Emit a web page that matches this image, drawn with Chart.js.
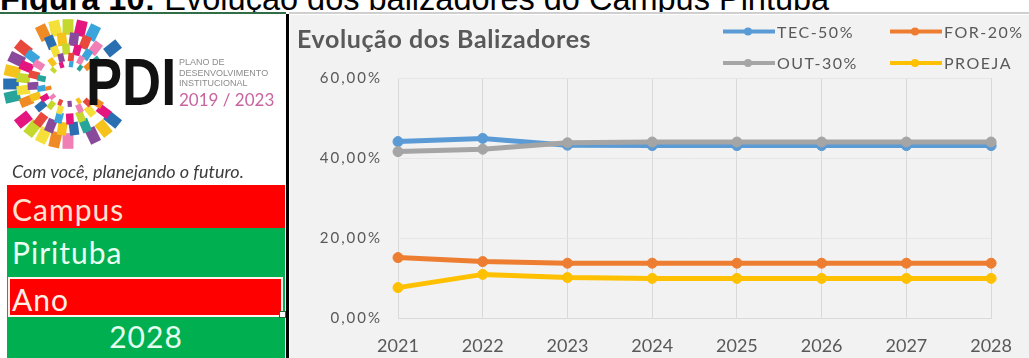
<!DOCTYPE html>
<html>
<head>
<meta charset="utf-8">
<script src="https://cdn.jsdelivr.net/npm/chart.js@4.4.1/dist/chart.umd.min.js"></script>
<style>
  html, body { margin: 0; padding: 0; background: #fff; }
  #page { position: relative; width: 1029px; height: 358px; overflow: hidden; background: #fff; }
  .abs { position: absolute; white-space: nowrap; }
  #caption { position: absolute; left: 0; top: 0; width: 1029px; height: 12px; overflow: hidden; }
  #caption div { position: absolute; left: 0; top: -17px; font: 32.5px/32.5px "Liberation Sans", Arial, sans-serif; color: #000; }
  #pdi { left: 86px; top: 49px; font: bold 66px/66px "Liberation Sans", Arial, sans-serif; color: #111; transform: scaleX(0.82); transform-origin: left top; }
  #plano { left: 179px; top: 57px; font: 9px/10.5px "Liberation Sans", Arial, sans-serif; color: #8c8c8c; }
  #years { left: 179px; top: 91px; font: 17px/17px Lato, sans-serif; color: #c9649f; }
  #tagline { left: 12px; top: 162px; font: italic 18px/18px Lato, sans-serif; color: #3c3c3c; }
  .band { position: absolute; left: 7px; width: 278px; }
  .red { background: #ff0000; }
  .green { background: #00b050; }
  .cell { position: absolute; font: 30px/30px Lato, sans-serif; letter-spacing: 1px; white-space: nowrap; }
  #chartBox { position: absolute; left: 290px; top: 15px; width: 739px; height: 343px; background: #f2f2f2; }
</style>
</head>
<body>
<div id="page">
  <div id="caption"><div><b>Figura 10:</b> Evolução dos balizadores do Campus Pirituba</div></div>
  <div class="abs" style="left:0;top:12px;width:286px;height:2px;background:#2f6e47"></div>
  <div class="abs" style="left:289px;top:12px;width:740px;height:2px;background:#cfcfcf"></div>

  <canvas id="logo" class="abs" width="180" height="150" style="left:0;top:14px"></canvas>
  <div id="pdi" class="abs">PDI</div>
  <div id="plano" class="abs">PLANO DE<br>DESENVOLVIMENTO<br>INSTITUCIONAL</div>
  <div id="years" class="abs">2019 / 2023</div>
  <div id="tagline" class="abs">Com você, planejando o futuro.</div>

  <div class="band red" style="top:185px;height:43px"></div>
  <div class="band green" style="top:228px;height:48px"></div>
  <div class="band green" style="top:276px;height:82px"></div>
  <div class="abs" style="left:8px;top:277px;width:271px;height:36px;background:#ff0000;border:2px solid #fff3ea"></div>
  <div class="abs" style="left:279px;top:311px;width:5px;height:5px;background:#fff;border:1px solid #1f6b3a"></div>
  <div class="cell" style="left:12px;top:194px;color:#ffe2d3">Campus</div>
  <div class="cell" style="left:12px;top:237px;color:#eafff1">Pirituba</div>
  <div class="cell" style="left:12px;top:284px;color:#fff0e6">Ano</div>
  <div class="cell" style="left:7px;width:278px;text-align:center;top:321px;color:#e4fff0">2028</div>

  <div class="abs" style="left:286px;top:14px;width:3px;height:344px;background:#000"></div>
  <div id="chartBox"><canvas id="chart"></canvas></div>
</div>

<script>
// campus goal indicators, percent of enrolments per year
const years = ['2021', '2022', '2023', '2024', '2025', '2026', '2027', '2028'];
const tec = [44.1, 44.9, 43.2, 43.1, 43.1, 43.1, 43.1, 43.1];
const formacao = [15.1, 14.1, 13.7, 13.7, 13.7, 13.7, 13.7, 13.7];
const outros = [41.6, 42.2, 43.8, 44.0, 44.0, 44.0, 44.0, 44.0];
const proeja = [7.6, 10.9, 10.1, 9.9, 9.9, 9.9, 9.9, 9.9];
const yTicks = [0, 20, 40, 60];
const seriesNames = ['TEC-50%', 'FOR-20%', 'OUT-30%', 'PROEJA'];
const chartTitle = 'Evolução dos Balizadores';

// logo mosaic ring
function drawLogo() {
  const g = document.getElementById('logo').getContext('2d');
  const cx = 68, cy = 70;
  const palette = ['#e5157f', '#f6c21c', '#f08a24', '#3aa5dc', '#8a4a9c', '#f5e03a',
                   '#27a59a', '#e9493c', '#c4d82e', '#2b6fb3', '#ef7fb4'];
  const rings = [[57, 13, 28], [45, 11, 24], [35, 9, 20], [27, 7, 17], [20, 5, 13]];
  rings.forEach(([r, size, count], ri) => {
    for (let k = 0; k < count; k++) {
      const a = (k / count) * Math.PI * 2 + ri * 0.13;
      const deg = (a * 180 / Math.PI) % 360;
      if (deg < 30 || deg > 322) continue;
      if ((k * 7 + ri * 3) % 6 === 0) continue;
      g.save();
      g.translate(cx + r * Math.cos(a), cy + r * Math.sin(a));
      g.rotate(a);
      g.fillStyle = palette[(k * 3 + ri * 5) % palette.length];
      g.fillRect(-size * 0.6, -size * 0.42, size * 1.2, size * 0.84);
      g.restore();
    }
  });
}
drawLogo();

const colors = ['#5b9bd5', '#ed7d31', '#a5a5a5', '#ffc000'];
const values = [tec, formacao, outros, proeja];

const pct = v => v.toFixed(2).replace('.', ',') + '%';

// title + two-row legend, and wider spacing for the value labels
const decor = {
  id: 'decor',
  beforeDraw(chart) { chart.ctx.letterSpacing = '0px'; },
  afterDatasetsDraw(chart) { chart.ctx.letterSpacing = '2px'; },
  afterDraw(chart) {
    const ctx = chart.ctx;
    ctx.save();
    ctx.letterSpacing = '0.6px';
    ctx.fillStyle = '#595959';
    ctx.font = 'bold 25px Lato';
    ctx.textBaseline = 'alphabetic';
    ctx.fillText(chartTitle, 7, 33);

    ctx.font = '16px Lato';
    ctx.letterSpacing = '1.5px';
    ctx.textBaseline = 'middle';
    chart.data.datasets.forEach((ds, i) => {
      const x0 = i % 2 === 0 ? 433 : 600;
      const y = i < 2 ? 16.5 : 48;
      ctx.strokeStyle = ds.borderColor;
      ctx.lineWidth = 4;
      ctx.beginPath();
      ctx.moveTo(x0, y);
      ctx.lineTo(x0 + 52, y);
      ctx.stroke();
      ctx.fillStyle = ds.borderColor;
      ctx.beginPath();
      ctx.arc(x0 + 25, y, 4, 0, Math.PI * 2);
      ctx.fill();
      ctx.fillStyle = '#595959';
      ctx.fillText(ds.label, x0 + 54, y + 1);
    });
    ctx.restore();
  }
};

new Chart(document.getElementById('chart'), {
  type: 'line',
  data: {
    labels: years,
    datasets: values.map((d, i) => ({
      label: seriesNames[i],
      data: d,
      borderColor: colors[i],
      backgroundColor: colors[i],
      pointBackgroundColor: colors[i],
      pointBorderColor: colors[i],
      borderWidth: 5,
      pointRadius: 5,
      pointBorderWidth: 1,
      tension: 0,
      order: i === 2 ? 0 : 1
    }))
  },
  options: {
    responsive: true,
    maintainAspectRatio: false,
    animation: false,
    layout: { padding: { top: 63, right: 27, left: 0, bottom: 0 } },
    plugins: {
      legend: { display: false },
      tooltip: { enabled: false }
    },
    scales: {
      x: {
        grid: { color: '#d9d9d9', drawTicks: false },
        border: { color: '#d9d9d9' },
        ticks: { color: '#595959', font: { family: 'Lato', size: 18 }, padding: 17, maxRotation: 0, autoSkip: false },
        afterFit: s => { s.height = 40; }
      },
      y: {
        min: 0,
        max: 60,
        afterBuildTicks: s => { s.ticks = yTicks.map(v => ({ value: v })); },
        grid: { color: '#e6e6e6', drawTicks: false },
        border: { display: false },
        ticks: { color: '#595959', font: { family: 'Lato', size: 15 }, padding: 16, callback: pct, z: 1 },
        afterFit: s => { s.width = 108; }
      }
    }
  },
  plugins: [decor]
});
</script>
</body>
</html>
